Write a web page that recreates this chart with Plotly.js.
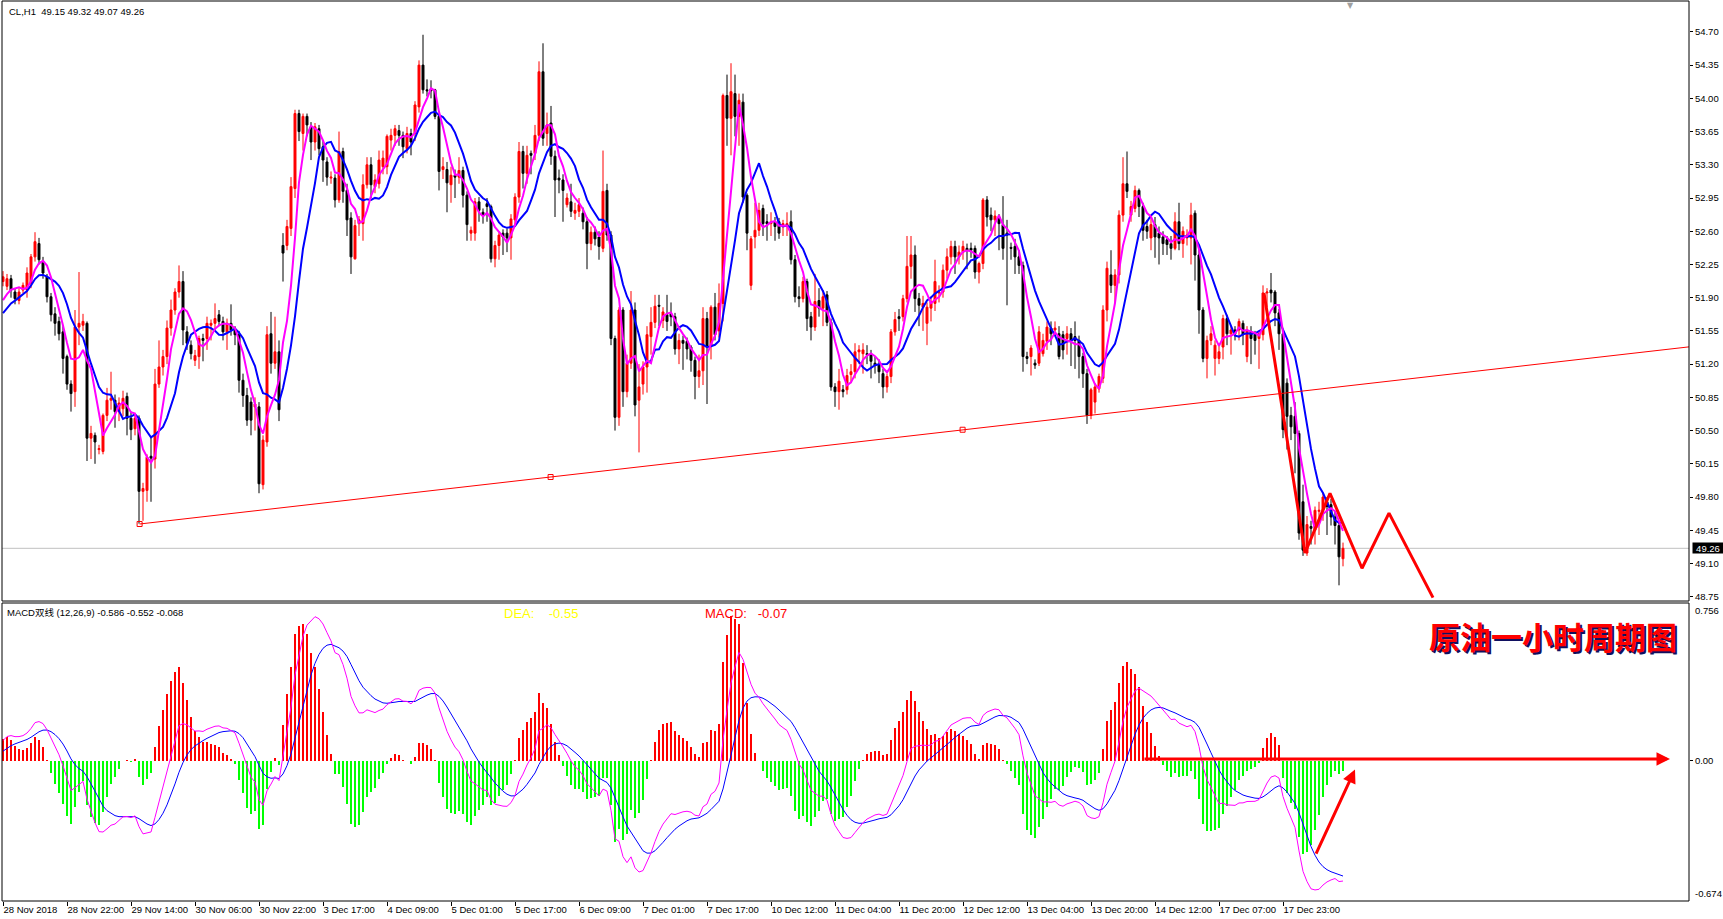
<!DOCTYPE html>
<html><head><meta charset="utf-8">
<script src="https://cdn.plot.ly/plotly-3.0.1.min.js"></script>
<style>html,body{margin:0;padding:0;background:#fff;overflow:hidden}#chart{width:1723px;height:919px}</style>
</head><body><div id="chart"></div>
<script>
// ---------- data (CL, H1) ----------
const preCloses = [51.55,51.50,51.60,51.65,51.70,51.78,51.75,51.82,51.90];
const opens = [
52.07,52.02,52.10,51.96,51.87,51.98,51.98,52.05,52.33,52.47,52.28,52.12,51.91,51.73,51.65,51.54,51.28,50.99,50.91,51.59,
51.61,51.63,50.42,50.45,50.30,50.28,50.66,50.82,50.82,50.70,50.73,50.86,50.63,50.52,50.63,49.86,49.87,50.23,50.20,50.99,
51.17,51.28,51.58,51.77,51.96,52.07,51.54,51.40,51.24,51.28,51.47,51.47,51.61,51.63,51.72,51.65,51.54,51.63,51.56,51.51,
51.03,50.87,50.80,50.75,50.75,49.93,50.38,51.52,51.21,51.33,52.45,52.45,52.63,53.05,53.84,53.63,53.81,53.70,53.54,53.68,
53.49,53.33,53.16,53.16,52.93,53.44,53.03,52.74,52.31,52.68,52.68,53.09,53.30,53.07,53.10,53.28,53.28,53.56,53.61,53.66,
53.61,53.47,53.63,53.63,53.91,54.35,54.09,54.10,54.09,53.81,53.25,53.25,53.09,53.19,53.17,53.24,52.98,52.58,52.58,52.91,
52.80,52.89,52.86,52.31,52.45,52.58,52.58,52.53,52.72,52.96,53.44,53.21,53.42,53.42,53.61,54.28,53.63,53.74,53.39,53.16,
53.14,52.88,52.91,52.79,52.81,52.79,52.70,52.47,52.59,52.54,52.42,53.03,52.56,51.47,50.64,51.77,50.91,51.21,51.77,50.82,
50.99,51.17,51.49,51.64,51.82,51.66,51.72,51.73,51.70,51.36,51.45,51.44,51.38,51.24,51.07,51.13,51.68,51.40,51.80,51.55,
51.84,54.03,53.79,54.05,53.81,53.96,52.98,52.03,52.54,52.61,52.84,52.70,52.68,52.70,52.70,52.66,52.65,52.70,52.30,51.91,
51.89,52.07,51.70,51.59,51.87,51.79,51.93,51.64,50.96,50.91,50.93,50.93,51.09,51.12,51.33,51.31,51.31,51.30,51.21,51.19,
51.10,50.96,51.07,51.54,51.70,51.70,51.89,52.23,52.35,51.89,51.80,51.63,51.79,51.84,51.95,51.96,52.19,52.33,52.44,52.33,
52.38,52.42,52.42,52.42,52.17,52.26,52.93,52.77,52.72,52.75,52.67,52.58,52.43,52.44,52.33,52.24,51.28,51.28,51.21,51.21,
51.31,51.44,51.58,51.56,51.52,51.51,51.47,51.52,51.49,51.45,51.28,51.10,50.66,50.80,50.94,51.05,51.77,52.14,52.03,52.14,
52.77,53.10,52.77,52.84,53.03,52.86,52.65,52.53,52.67,52.58,52.54,52.51,52.47,52.42,52.70,52.47,52.53,52.53,52.79,52.35,
51.77,51.26,51.45,51.26,51.26,51.38,51.68,51.52,51.56,51.56,51.63,51.28,51.54,51.51,51.47,51.51,51.95,51.98,51.96,51.74,
51.52,51.00,50.66,50.65,50.47,49.75,49.21,49.49,49.45,49.65,49.66,49.75,49.72,49.59,49.50,49.15];
const highs = [
52.18,52.15,52.14,52.00,52.00,52.06,52.22,52.36,52.59,52.53,52.33,52.15,51.95,51.80,51.70,51.60,51.30,51.03,51.77,52.17,
51.73,51.65,50.55,50.48,50.35,50.68,50.95,51.12,50.88,50.85,50.92,50.90,50.70,50.68,50.66,49.95,50.25,50.43,51.15,51.45,
51.35,51.66,51.88,52.00,52.24,52.18,51.60,51.45,51.35,51.50,51.52,51.70,51.67,51.84,51.77,51.70,51.68,51.83,51.60,51.55,
51.10,50.95,50.85,50.85,50.80,50.45,51.60,51.75,51.70,51.45,52.58,52.72,53.17,53.88,53.88,53.84,53.84,53.75,53.74,53.72,
53.55,53.38,53.23,53.20,53.65,53.48,53.10,52.80,52.72,52.76,53.20,53.38,53.38,53.20,53.45,53.45,53.62,53.68,53.72,53.72,
53.65,53.70,53.68,53.97,54.40,54.67,54.20,54.19,54.10,53.84,53.38,53.33,53.28,53.25,53.38,53.28,53.02,52.65,52.95,52.96,
52.84,52.95,52.88,52.50,52.60,52.62,52.63,52.78,53.00,53.54,53.50,53.50,53.45,53.72,54.39,54.58,53.85,53.92,53.45,53.25,
53.20,53.00,53.10,52.90,52.95,52.85,52.75,52.65,52.65,52.60,53.45,53.10,52.60,51.50,51.80,51.80,51.30,51.97,51.85,51.20,
51.23,51.60,51.80,51.93,51.93,51.80,51.93,51.85,51.74,51.52,51.50,51.48,51.40,51.28,51.30,51.80,51.75,51.82,51.95,52.05,
54.05,54.25,54.37,54.25,54.05,54.05,53.00,52.55,52.90,52.90,52.88,52.78,52.80,52.75,52.74,52.72,52.80,52.82,52.35,52.02,
52.12,52.10,51.75,52.15,52.00,51.98,51.97,51.68,51.00,51.15,50.98,51.15,51.20,51.42,51.40,51.42,51.40,51.35,51.28,51.25,
51.15,51.10,51.57,51.75,51.78,51.93,52.55,52.55,52.45,51.95,51.92,51.85,51.90,52.30,52.03,52.25,52.42,52.50,52.50,52.45,
52.50,52.47,52.48,52.45,52.28,52.95,52.97,52.85,52.82,52.78,52.97,52.72,52.48,52.52,52.40,52.28,51.33,51.40,51.25,51.60,
51.52,51.65,51.65,51.65,51.60,51.55,51.60,51.58,51.65,51.50,51.32,51.15,50.95,51.00,51.10,51.82,52.28,52.40,52.20,52.82,
53.38,53.44,52.92,53.08,53.05,52.90,52.72,52.75,52.75,52.65,52.60,52.55,52.55,52.80,52.90,52.65,52.62,52.90,52.82,52.40,
51.80,51.50,51.60,51.45,51.42,51.72,51.72,51.60,51.60,51.68,51.66,51.60,51.60,51.55,51.55,52.03,52.00,52.16,51.98,51.78,
51.55,51.05,50.75,50.80,50.50,49.93,49.60,49.55,49.70,49.75,49.84,49.80,49.78,49.65,49.55,49.32];
const lows = [
52.02,51.98,51.90,51.83,51.83,51.95,51.90,52.00,52.28,52.25,52.10,51.85,51.65,51.50,51.45,51.10,50.93,50.70,50.75,51.40,
51.55,50.18,50.20,50.15,50.25,50.25,50.60,50.72,50.53,50.60,50.65,50.45,50.40,50.45,49.52,49.55,49.75,49.75,50.10,50.95,
51.08,51.20,51.50,51.72,51.90,51.40,51.35,51.25,51.18,51.15,51.23,51.35,51.45,51.55,51.60,51.45,51.35,51.50,51.40,50.90,
50.75,50.55,50.45,50.50,49.84,49.88,50.33,51.10,51.15,50.60,52.07,52.40,52.55,52.95,53.55,53.45,53.60,53.35,53.45,53.40,
53.12,53.08,53.10,52.85,52.90,52.90,52.55,52.15,52.30,52.55,52.50,53.05,52.95,53.00,53.05,53.20,53.20,53.45,53.50,53.50,
53.37,53.42,53.40,53.55,53.85,54.05,54.02,54.00,53.78,53.03,53.15,52.80,52.90,52.95,53.10,52.85,52.50,52.50,52.50,52.70,
52.68,52.70,52.27,52.22,52.30,52.35,52.38,52.30,52.65,52.90,53.05,53.10,53.20,53.35,53.55,53.50,53.50,53.30,52.75,53.00,
52.70,52.85,52.75,52.72,52.75,52.62,52.20,52.40,52.45,52.30,52.38,52.50,51.40,50.50,50.55,50.75,50.85,51.15,50.65,50.27,
50.88,50.90,51.30,51.58,51.60,51.58,51.55,51.60,51.30,51.20,51.14,51.25,51.12,50.83,50.95,50.98,50.78,51.25,51.45,51.48,
51.65,53.50,53.40,53.60,53.50,52.90,52.40,51.98,52.42,52.55,52.55,52.50,52.55,52.50,52.52,52.55,52.55,52.25,51.85,51.80,
51.85,51.55,51.45,51.55,51.70,51.60,51.60,50.92,50.75,50.72,50.85,50.88,51.00,51.05,51.20,51.10,51.20,51.05,51.10,51.00,
50.84,50.90,51.00,51.50,51.55,51.65,51.85,52.10,51.75,51.60,51.55,51.40,51.65,51.76,51.85,51.90,52.10,52.25,52.15,52.25,
52.30,52.20,52.32,52.10,52.05,52.20,52.65,52.60,52.55,52.40,52.30,51.82,52.30,52.15,52.15,51.12,51.20,51.08,51.15,51.18,
51.28,51.35,51.40,51.50,51.25,51.25,51.30,51.18,51.15,51.05,50.95,50.57,50.62,50.68,50.90,51.00,51.65,51.95,51.85,52.05,
52.70,52.95,52.70,52.80,52.75,52.50,52.52,52.40,52.32,52.25,52.35,52.35,52.30,52.40,52.40,52.32,52.45,52.25,52.08,51.52,
51.22,51.05,51.40,51.08,51.20,51.25,51.40,51.30,51.45,51.45,51.40,51.22,51.20,51.30,51.15,51.45,51.80,51.85,51.60,51.35,
50.42,50.30,50.40,50.05,49.35,49.18,49.18,49.30,49.30,49.40,49.55,49.40,49.50,49.30,48.87,49.07];
const closes = [
52.12,52.10,51.98,51.89,51.96,52.03,52.16,52.33,52.49,52.30,52.16,51.91,51.72,51.63,51.52,51.26,50.99,50.89,51.59,51.63,
51.65,50.42,50.47,50.38,50.31,50.66,50.82,50.84,50.70,50.79,50.84,50.63,50.51,50.63,49.86,49.89,50.22,50.21,50.99,51.17,
51.28,51.58,51.77,51.96,52.07,51.56,51.42,51.31,51.29,51.47,51.45,51.63,51.63,51.68,51.65,51.54,51.63,51.56,51.51,51.03,
50.87,50.61,50.61,50.78,49.94,50.40,51.51,51.21,51.33,50.72,52.37,52.65,53.07,53.84,53.65,53.81,53.72,53.54,53.70,53.47,
53.35,53.17,53.17,52.93,53.44,53.02,52.72,52.33,52.66,52.72,53.09,53.30,53.09,53.14,53.35,53.37,53.60,53.61,53.68,53.61,
53.49,53.63,53.54,53.93,54.35,54.09,54.08,54.08,53.81,53.23,53.28,53.11,53.19,53.17,53.24,52.98,52.67,52.61,52.91,52.82,
52.77,52.86,52.31,52.45,52.56,52.54,52.53,52.73,52.96,53.44,53.21,53.40,53.40,53.61,54.28,53.58,53.72,53.39,53.14,53.14,
53.03,52.95,52.81,52.82,52.88,52.70,52.47,52.59,52.52,52.44,53.02,52.56,51.47,50.64,51.77,50.91,51.21,51.77,50.77,50.96,
51.17,51.51,51.64,51.81,51.81,51.75,51.65,51.70,51.36,51.45,51.42,51.36,51.24,51.07,51.13,51.68,51.38,51.80,51.51,51.84,
54.03,53.79,54.07,53.81,53.98,52.96,52.58,52.52,52.61,52.82,52.68,52.68,52.70,52.65,52.58,52.68,52.68,52.30,51.91,51.89,
52.07,51.68,51.59,51.86,51.79,51.91,51.64,50.96,50.91,51.02,50.91,51.08,51.12,51.33,51.35,51.35,51.30,51.23,51.19,51.12,
50.96,51.07,51.54,51.67,51.68,51.89,52.23,52.35,51.89,51.82,51.84,51.80,51.86,52.07,51.96,52.19,52.33,52.44,52.33,52.38,
52.44,52.40,52.40,52.17,52.26,52.93,52.75,52.72,52.76,52.68,52.42,52.56,52.42,52.33,52.24,51.28,51.26,51.37,51.19,51.54,
51.45,51.59,51.52,51.58,51.28,51.35,51.52,51.45,51.45,51.28,51.10,50.66,50.93,50.96,51.07,51.77,52.21,52.03,52.14,52.77,
53.10,53.02,52.86,53.03,52.86,52.61,52.60,52.67,52.54,52.53,52.47,52.46,52.42,52.70,52.47,52.60,52.56,52.77,52.35,51.77,
51.26,51.45,51.52,51.40,51.33,51.68,51.52,51.56,51.52,51.65,51.51,51.56,51.47,51.45,51.52,51.95,51.96,51.95,51.74,51.52,
50.51,50.65,50.54,50.47,49.42,49.24,49.51,49.47,49.66,49.66,49.80,49.70,49.59,49.50,49.17,49.26];

const xTickBars = [0,16,32,48,64,80,96,112,128,144,160,176,192,208,224,240,256,272,288,304,320];
const xTickLabels = ['28 Nov 2018','28 Nov 22:00','29 Nov 14:00','30 Nov 06:00','30 Nov 22:00','3 Dec 17:00',
  '4 Dec 09:00','5 Dec 01:00','5 Dec 17:00','6 Dec 09:00','7 Dec 01:00','7 Dec 17:00','10 Dec 12:00','11 Dec 04:00',
  '11 Dec 20:00','12 Dec 12:00','13 Dec 04:00','13 Dec 20:00','14 Dec 12:00','17 Dec 07:00','17 Dec 23:00'];

// hand-drawn objects
const trendBars = [34.15, 136.9, 239.9];
const trendPrices = [49.516, 50.011, 50.509];
const zigBars = [315.25, 325.5, 331.75, 339.75, 346.5, 357.5];
const zigPrices = [51.95, 49.21, 49.84, 49.05, 49.63, 48.74];
const hArrowBars = [285, 416.75];
const hArrowVals = [0.008, 0.008];
const dArrowBars = [328.1, 338];
const dArrowVals = [-0.454, -0.043];
const lastPrice = 49.26;

// ---------- computation ----------
const X = closes.map((_, i) => i);
const all = preCloses.concat(closes);
const P = preCloses.length;
function sma(n) {
  return closes.map((_, i) => {
    const k = i + P; if (k < n - 1) return null;
    let s = 0; for (let j = k - n + 1; j <= k; j++) s += all[j];
    return s / n;
  });
}
function ema(arr, n) {
  const a = 2 / (n + 1); const out = []; let e = arr[0];
  arr.forEach((v, i) => { e = i === 0 ? v : a * v + (1 - a) * e; out.push(e); });
  return out;
}
const ma5 = sma(5), ma10 = sma(10);
const e12 = ema(all, 12), e26 = ema(all, 26);
const difAll = e12.map((v, i) => v - e26[i]);
const deaAll = ema(difAll, 9);
const dif = difAll.slice(P), dea = deaAll.slice(P);
const hist = dif.map((v, i) => 2 * (v - dea[i]));

const XMAX = 421.5;
const slope = (trendPrices[1] - trendPrices[0]) / (trendBars[1] - trendBars[0]);
const trendEndY = trendPrices[0] + slope * (XMAX - trendBars[0]);

const FONT = 'Liberation Sans, Arial, sans-serif';

const traces = [
  {type:'candlestick', x:X, open:opens, high:highs, low:lows, close:closes, xaxis:'x', yaxis:'y',
   increasing:{line:{color:'#ff0000', width:1}, fillcolor:'#ff0000'},
   decreasing:{line:{color:'#000000', width:1}, fillcolor:'#000000'},
   whiskerwidth:0, hoverinfo:'skip'},
  {type:'scatter', mode:'lines', x:X, y:ma10, line:{color:'#0000ff', width:2}, xaxis:'x', yaxis:'y', hoverinfo:'skip'},
  {type:'scatter', mode:'lines', x:X, y:ma5, line:{color:'#ff00ff', width:2}, xaxis:'x', yaxis:'y', hoverinfo:'skip'},
  {type:'scatter', mode:'lines', x:[trendBars[0], XMAX], y:[trendPrices[0], trendEndY],
   line:{color:'#ff0000', width:1}, xaxis:'x', yaxis:'y', hoverinfo:'skip'},
  {type:'scatter', mode:'markers', x:trendBars, y:trendPrices,
   marker:{symbol:'square-open', size:5, color:'#ff0000', line:{width:1, color:'#ff0000'}}, xaxis:'x', yaxis:'y', hoverinfo:'skip'},
  {type:'scatter', mode:'lines', x:zigBars, y:zigPrices, line:{color:'#ff0000', width:3}, xaxis:'x', yaxis:'y', hoverinfo:'skip'},
  {type:'bar', x:X, y:hist, width:0.6, marker:{color:hist.map(v => v >= 0 ? '#ff0000' : '#00ff00'), line:{width:0}},
   xaxis:'x', yaxis:'y2', hoverinfo:'skip'},
  {type:'scatter', mode:'lines', x:X, y:dea, line:{color:'#0000ff', width:1}, xaxis:'x', yaxis:'y2', hoverinfo:'skip'},
  {type:'scatter', mode:'lines', x:X, y:dif, line:{color:'#ff00ff', width:1}, xaxis:'x', yaxis:'y2', hoverinfo:'skip'}
];

const ann = [
  {xref:'paper', yref:'paper', x:0.003, y:1, xanchor:'left', yanchor:'top', yshift:-3, showarrow:false,
   text:'CL,H1  49.15 49.32 49.07 49.26', font:{family:FONT, size:9.5, color:'#000'}},
  {xref:'paper', yref:'y2', x:0.002, y:0.756, xanchor:'left', yanchor:'top', yshift:-2, showarrow:false,
   text:'MACD双线 (12,26,9) -0.586 -0.552 -0.068', font:{family:FONT + ', Noto Sans CJK SC', size:9.5, color:'#000'}},
  {xref:'paper', yref:'y2', x:(502-2)/1687, y:0.756, xanchor:'left', yanchor:'top', yshift:-1, showarrow:false,
   text:'DEA:&nbsp;&nbsp;&nbsp;&nbsp;-0.55', font:{family:FONT, size:13, color:'#ffff00'}},
  {xref:'paper', yref:'y2', x:(703-2)/1687, y:0.756, xanchor:'left', yanchor:'top', yshift:-1, showarrow:false,
   text:'MACD:&nbsp;&nbsp;&nbsp;-0.07', font:{family:FONT, size:13, color:'#ff0000'}},
  {xref:'paper', yref:'y2', x:(1553-2)/1687, y:0.60, xanchor:'center', yanchor:'middle', xshift:2, yshift:-2, showarrow:false,
   text:'<b>原油一小时周期图</b>', font:{family:'Noto Sans CJK SC', size:31, color:'#101060'}},
  {xref:'paper', yref:'y2', x:(1553-2)/1687, y:0.60, xanchor:'center', yanchor:'middle', showarrow:false,
   text:'<b>原油一小时周期图</b>', font:{family:'Noto Sans CJK SC', size:31, color:'#ff0000'}},
  {xref:'paper', yref:'y2', x:1, y:0.756, xanchor:'left', yanchor:'top', xshift:4, showarrow:false,
   text:'0.756', font:{family:FONT, size:9.5, color:'#000'}},
  {xref:'paper', yref:'y2', x:1, y:-0.674, xanchor:'left', yanchor:'bottom', xshift:4, showarrow:false,
   text:'-0.674', font:{family:FONT, size:9.5, color:'#000'}},
  {xref:'paper', yref:'y', x:1, y:lastPrice, xanchor:'left', yanchor:'middle', xshift:3, showarrow:false,
   text:'49.26', bgcolor:'#000', borderpad:0, width:30, height:10, font:{family:FONT, size:9.5, color:'#fff'}},
  {xref:'paper', yref:'paper', x:(1350-2)/1687, y:1, xanchor:'center', yanchor:'top', yshift:2, showarrow:false,
   text:'▼', font:{family:'DejaVu Sans', size:8, color:'#a0a0a0'}},
  {xref:'x', yref:'y2', axref:'x', ayref:'y2', x:hArrowBars[1], y:hArrowVals[1], ax:hArrowBars[0], ay:hArrowVals[0],
   text:'', showarrow:true, arrowhead:2, arrowsize:0.9, arrowwidth:3, arrowcolor:'#ff0000'},
  {xref:'x', yref:'y2', axref:'x', ayref:'y2', x:dArrowBars[1], y:dArrowVals[1], ax:dArrowBars[0], ay:dArrowVals[0],
   text:'', showarrow:true, arrowhead:2, arrowsize:0.9, arrowwidth:3, arrowcolor:'#ff0000'}
];

const PRICE_DOM = [0.3333, 1], MACD_DOM = [0, 0.3311];
const shapes = [
  {type:'line', xref:'paper', yref:'y', x0:0, x1:1, y0:lastPrice, y1:lastPrice, line:{color:'#c0c0c0', width:1}, layer:'below'},
  {type:'rect', xref:'paper', yref:'paper', x0:0, x1:1, y0:PRICE_DOM[0], y1:PRICE_DOM[1], line:{color:'#000', width:1}},
  {type:'rect', xref:'paper', yref:'paper', x0:0, x1:1, y0:MACD_DOM[0], y1:MACD_DOM[1], line:{color:'#000', width:1}}
];

const layout = {
  width:1723, height:919,
  margin:{l:2, r:34, t:1, b:18, pad:0},
  paper_bgcolor:'#ffffff', plot_bgcolor:'#ffffff',
  showlegend:false, hovermode:false, bargap:0,
  xaxis:{range:[-0.25, XMAX], anchor:'y2', tickmode:'array', tickvals:xTickBars, ticktext:xTickLabels,
    tickangle:0, ticks:'outside', ticklen:4, tickcolor:'#000', tickwidth:1, ticklabelposition:'outside right',
    showgrid:false, zeroline:false, showline:false, rangeslider:{visible:false}, automargin:false,
    tickfont:{family:FONT, size:9.5, color:'#000'}},
  yaxis:{domain:PRICE_DOM, range:[48.7045, 55.0255], side:'right', anchor:'x', tickmode:'linear', tick0:48.75, dtick:0.35,
    tickformat:'.2f', ticks:'outside', ticklen:3, tickcolor:'#000', showgrid:false, zeroline:false, showline:false,
    tickfont:{family:FONT, size:9.5, color:'#000'}},
  yaxis2:{domain:MACD_DOM, range:[-0.674, 0.756], side:'right', anchor:'x', tickmode:'array', tickvals:[0], ticktext:['0.00'],
    ticks:'outside', ticklen:3, tickcolor:'#000', showgrid:false, zeroline:false, showline:false,
    tickfont:{family:FONT, size:9.5, color:'#000'}},
  shapes:shapes, annotations:ann
};

Plotly.newPlot('chart', traces, layout, {staticPlot:true, displayModeBar:false});
</script>
</body></html>
